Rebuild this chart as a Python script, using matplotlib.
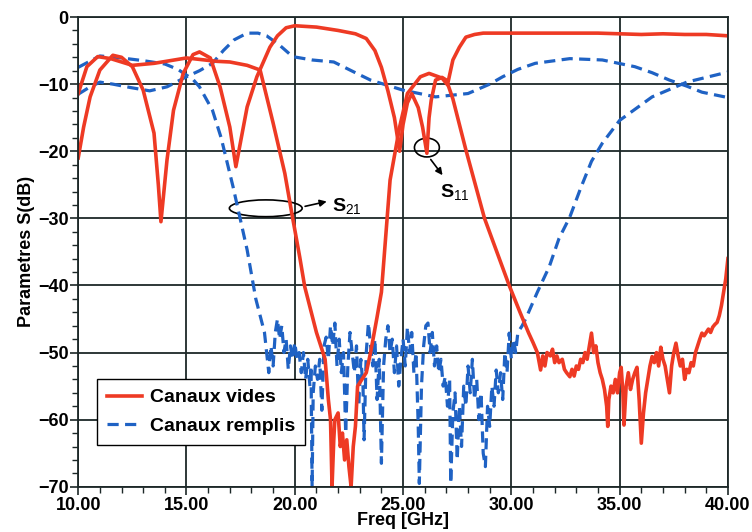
import numpy as np
import matplotlib.pyplot as plt
from matplotlib.patches import Ellipse

plt.rcParams['font.family'] = ['Liberation Sans', 'DejaVu Sans']
plt.rcParams['mathtext.fontset'] = 'custom'
plt.rcParams['mathtext.rm'] = 'Liberation Sans'

# Canaux vides (red) - S11
red_s11_f = [10.0, 10.25, 10.55, 11.0, 11.6, 12.0, 12.5, 13.0, 13.5, 13.7, 13.82, 14.1, 14.4, 14.85,
             15.3, 15.6, 16.1, 16.55, 17.0, 17.28, 17.8, 18.25, 18.85, 19.2, 19.6, 20.0, 21.0, 22.0,
             22.8, 23.3, 23.7, 24.0, 24.3, 24.6, 24.84, 25.0, 25.2, 25.4, 25.7, 25.9, 26.1, 26.2,
             26.3, 26.5, 26.8, 27.0, 27.3, 27.9, 28.76, 29.9, 30.4, 30.8, 31.0, 31.2, 31.35, 31.45,
             31.55, 31.65, 31.8, 31.9, 32.0, 32.1, 32.2, 32.35, 32.45, 32.55, 32.7, 32.8, 32.9,
             33.0, 33.1, 33.2, 33.3, 33.4, 33.5, 33.6, 33.7, 33.8, 33.9, 34.0, 34.1, 34.2, 34.3,
             34.4, 34.45, 34.5, 34.6, 34.7, 34.8, 34.9, 35.0, 35.07, 35.15, 35.2, 35.3, 35.4, 35.5,
             35.6, 35.7, 35.8, 35.9, 36.0, 36.1, 36.2, 36.3, 36.4, 36.5, 36.6, 36.7, 36.8, 36.9,
             37.0, 37.1, 37.2, 37.3, 37.4, 37.5, 37.6, 37.7, 37.8, 37.9, 38.0, 38.1, 38.2, 38.3,
             38.4, 38.5, 38.6, 38.7, 38.8, 38.9, 39.0, 39.1, 39.2, 39.3, 39.4, 39.5, 39.6, 39.7,
             39.8, 39.9, 40.0]
red_s11_db = [-21.0, -16.4, -11.9, -7.9, -5.7, -6.0, -7.4, -10.9, -17.3, -25.0, -30.5, -21.3, -13.9, -8.4,
              -5.6, -5.2, -6.1, -10.4, -16.4, -22.3, -13.4, -8.9, -4.5, -2.8, -1.6, -1.3, -1.5, -2.0,
              -2.5, -3.2, -5.0, -7.5, -11.0, -15.0, -20.0, -16.0, -12.8, -11.4, -13.5, -16.4, -20.3, -15.0,
              -12.4, -9.4, -9.0, -9.4, -12.2, -19.8, -30.0, -40.0, -44.0, -47.1, -48.5, -50.0, -52.6, -50.5,
              -52.0, -50.0, -50.5, -49.5, -51.5, -50.5, -51.5, -51.0, -52.5, -53.0, -53.6, -52.5, -53.5,
              -52.0, -52.5, -51.0, -51.5, -50.0, -51.0, -49.0, -47.1, -50.0, -49.0, -51.5, -53.0, -54.0, -55.5,
              -58.0, -61.0, -57.0, -55.0, -56.0, -54.0, -56.0, -53.0, -52.2, -56.0, -60.8, -55.0, -53.0, -55.5,
              -54.0, -53.0, -52.2, -57.0, -63.5, -59.0, -56.0, -54.0, -52.0, -50.6, -51.5, -50.0, -52.0, -49.2,
              -51.0, -52.0, -54.0, -56.0, -52.0, -50.0, -48.6, -50.5, -52.0, -51.0, -54.0, -52.5, -53.0, -51.5,
              -52.0, -50.0, -49.0, -48.0, -47.1, -47.5, -47.0, -46.5, -47.0, -46.2, -45.8, -45.5, -44.5, -43.0,
              -41.0, -39.0, -36.0]

# Canaux vides (red) - S21
red_s21_f = [10.0, 10.4, 10.9, 11.5, 12.5, 13.5, 15.0, 16.4, 17.0, 17.8, 18.4, 19.0, 19.54, 19.86,
             20.23, 20.46, 21.0, 21.4, 21.55, 21.65, 21.72, 21.8, 21.85, 22.0, 22.1, 22.2, 22.3, 22.4,
             22.5, 22.6, 22.7, 22.8, 22.9, 23.1, 23.3, 23.5, 23.8, 24.0, 24.4, 24.84, 25.2, 25.8,
             26.2, 26.8, 27.05, 27.3, 27.6, 27.9, 28.3, 28.7, 30.0, 32.0, 34.0, 35.0, 36.0, 37.0,
             38.0, 39.0, 40.0]
red_s21_db = [-11.4, -7.4, -5.9, -6.2, -7.2, -6.9, -6.1, -6.6, -6.7, -7.2, -7.9, -15.8, -23.3, -29.2,
              -35.8, -40.2, -47.0, -51.0, -57.0, -60.0, -70.0, -63.0, -60.0, -59.0, -64.0, -62.0, -66.0, -63.0,
              -67.0, -70.0, -64.0, -61.0, -55.0, -54.0, -53.0, -50.0, -44.7, -41.0, -24.3, -16.4, -11.4, -8.9,
              -8.4, -9.1, -10.1, -6.4, -4.5, -3.0, -2.6, -2.4, -2.4, -2.4, -2.4, -2.5, -2.6, -2.5,
              -2.6, -2.6, -2.8]

# Canaux remplis (blue) - S11
blue_s11_f = [10.0, 10.5, 11.0, 11.6, 12.4, 13.3, 14.1, 15.0, 15.6, 16.2, 16.7, 17.2, 17.8, 18.3,
              18.7, 19.3, 19.9, 20.8, 21.8, 22.8, 23.5, 24.2, 25.0, 26.5, 28.0, 29.0, 29.6, 30.3,
              31.1, 32.7, 34.2, 35.7, 36.5, 37.3, 38.1, 38.8, 40.0]
blue_s11_db = [-11.5, -10.5, -9.7, -10.0, -10.5, -11.0, -10.4, -8.9, -8.0, -6.9, -5.0, -3.4, -2.4, -2.4,
               -2.8, -4.2, -5.9, -6.4, -6.7, -8.3, -9.4, -10.1, -10.9, -11.9, -11.4, -10.0, -8.9, -7.8,
               -6.9, -6.2, -6.4, -7.4, -8.3, -9.4, -10.3, -11.2, -12.0]

# Canaux remplis (blue) - S21
blue_s21_f = [10.0, 11.0, 12.0, 13.0, 14.0, 14.6, 15.3, 15.6, 16.2, 16.6, 17.15, 17.8, 18.2, 18.6,
              18.7, 18.8, 18.9, 19.0, 19.1, 19.2, 19.3, 19.4, 19.5, 19.6, 19.7, 19.8, 19.9, 20.0,
              20.1, 20.2, 20.3, 20.4, 20.5, 20.6, 20.7, 20.75, 20.8, 20.85, 20.95, 21.05, 21.15, 21.25,
              21.35, 21.45, 21.55, 21.65, 21.75, 21.85, 21.95, 22.05, 22.15, 22.25, 22.35, 22.45, 22.55,
              22.65, 22.75, 22.85, 22.95, 23.05, 23.15, 23.2, 23.3, 23.4, 23.5, 23.6, 23.7, 23.8,
              23.9, 24.0, 24.1, 24.2, 24.3, 24.4, 24.5, 24.6, 24.7, 24.8, 24.9, 25.0, 25.1, 25.2,
              25.3, 25.4, 25.5, 25.6, 25.7, 25.75, 25.85, 25.95, 26.05, 26.15, 26.25, 26.35, 26.45,
              26.55, 26.65, 26.75, 26.85, 26.95, 27.05, 27.15, 27.2, 27.3, 27.4, 27.5, 27.6, 27.7,
              27.8, 27.9, 28.0, 28.1, 28.2, 28.3, 28.4, 28.5, 28.6, 28.7, 28.8, 28.9, 29.0, 29.1,
              29.2, 29.3, 29.4, 29.5, 29.6, 29.7, 29.8, 29.9, 30.0, 30.1, 30.2, 30.3, 30.5, 30.7,
              31.2, 31.75, 32.2, 32.7, 33.2, 33.7, 34.2, 35.0, 36.5, 38.1, 40.0]
blue_s21_db = [-7.5, -5.8, -6.1, -6.5, -7.0, -7.8, -9.3, -10.4, -13.9, -18.0, -25.3, -34.7, -42.0, -47.0,
               -50.0, -53.0, -49.0, -52.0, -47.0, -45.0, -48.0, -46.0, -50.0, -48.0, -52.5, -49.0, -51.0, -48.5,
               -51.0, -50.0, -53.0, -50.0, -54.0, -51.0, -55.0, -52.0, -70.0, -56.0, -52.0, -54.0, -51.0, -58.6,
               -49.0, -47.7, -51.0, -46.0, -49.0, -45.6, -52.0, -48.0, -53.0, -50.0, -62.0, -52.0, -47.0,
               -50.0, -53.0, -49.0, -58.0, -51.0, -55.0, -63.0, -50.0, -45.6, -49.0, -52.0, -48.0, -57.0,
               -51.0, -66.5, -52.0, -48.0, -46.0, -50.0, -48.0, -53.0, -49.0, -55.0, -51.0, -48.0, -52.0, -46.2,
               -50.0, -47.0, -53.0, -50.0, -61.0, -69.5, -55.0, -49.0, -46.0, -45.6, -50.0, -47.0, -52.0,
               -49.0, -53.0, -51.0, -55.0, -53.6, -58.0, -54.0, -69.5, -59.0, -56.0, -66.0, -58.0, -64.0,
               -55.0, -58.0, -52.0, -56.0, -51.0, -57.0, -54.0, -60.0, -56.0, -65.0, -67.0, -58.0, -61.0, -55.0,
               -58.0, -52.6, -56.0, -53.0, -57.0, -50.0, -53.0, -47.1, -51.0, -48.0, -50.0, -47.0, -46.0, -44.7,
               -41.0, -37.2, -33.0, -29.8, -25.5, -21.5, -18.8, -15.4, -11.9, -9.7, -8.2]

red = '#ee3a24'
blue = '#1f62c4'
grid_col = '#1c2828'

fig = plt.figure(figsize=(7.52, 5.32), dpi=100)
ax = fig.add_axes([0.104, 0.085, 0.864, 0.883])

# blue first, red on top
ax.plot(blue_s11_f, blue_s11_db, color=blue, lw=2.3, linestyle=(0, (3.5, 2)))
ax.plot(blue_s21_f, blue_s21_db, color=blue, lw=2.3, linestyle=(0, (3.5, 2)), label='Canaux remplis')
ax.plot(red_s11_f, red_s11_db, color=red, lw=2.6)
ax.plot(red_s21_f, red_s21_db, color=red, lw=2.6, label='Canaux vides')

ax.set_xlim(10, 40)
ax.set_ylim(-70, 0)
ax.set_xticks(np.arange(10, 41, 5))
ax.set_xticklabels(['%.2f' % v for v in np.arange(10, 41, 5)])
ax.set_yticks(np.arange(-70, 1, 10))
ax.set_xticks(np.arange(10, 41, 1), minor=True)
ax.set_yticks(np.arange(-70, 1, 2), minor=True)
ax.grid(True, which='major', color=grid_col, lw=1.3)
ax.set_axisbelow(True)
for s in ax.spines.values():
    s.set_color(grid_col)
    s.set_linewidth(1.3)
ax.tick_params(which='major', direction='out', length=6, width=1.2, color=grid_col,
               labelsize=13, pad=1)
ax.tick_params(which='minor', direction='out', length=4, width=1.0, color=grid_col)
for lab in ax.get_xticklabels() + ax.get_yticklabels():
    lab.set_fontweight('bold')
ax.set_xlabel('Freq [GHz]', fontsize=13, fontweight='bold', labelpad=-1)
ax.set_ylabel('Parametres S(dB)', fontsize=13, fontweight='bold', labelpad=2)

# annotations
ax.add_patch(Ellipse((18.66, -28.5), 3.36, 2.5, fill=False, ec='black', lw=1.2))
ax.annotate('', xy=(21.6, -27.4), xytext=(20.35, -28.3),
            arrowprops=dict(arrowstyle='-|>', color='black', lw=1.2, mutation_scale=10))
ax.text(21.7, -28.3, r'S$_{\mathrm{21}}$', fontsize=14, fontweight='bold', va='center', ha='left')

ax.add_patch(Ellipse((26.1, -19.45), 1.15, 2.8, fill=False, ec='black', lw=1.2))
ax.annotate('', xy=(26.9, -23.9), xytext=(26.2, -20.9),
            arrowprops=dict(arrowstyle='-|>', color='black', lw=1.2, mutation_scale=10))
ax.text(26.7, -26.2, r'S$_{\mathrm{11}}$', fontsize=14, fontweight='bold', va='center', ha='left')

handles, labels = ax.get_legend_handles_labels()
leg = ax.legend(handles[::-1], labels[::-1], loc='lower left', bbox_to_anchor=(0.029, 0.09),
                prop={'weight': 'bold', 'size': 14}, frameon=True, fancybox=False,
                edgecolor='black', framealpha=1, handlelength=1.8, handletextpad=0.4,
                labelspacing=0.55, borderpad=0.5, borderaxespad=0)
leg.get_frame().set_linewidth(1.0)

plt.savefig('out.png', dpi=100)
